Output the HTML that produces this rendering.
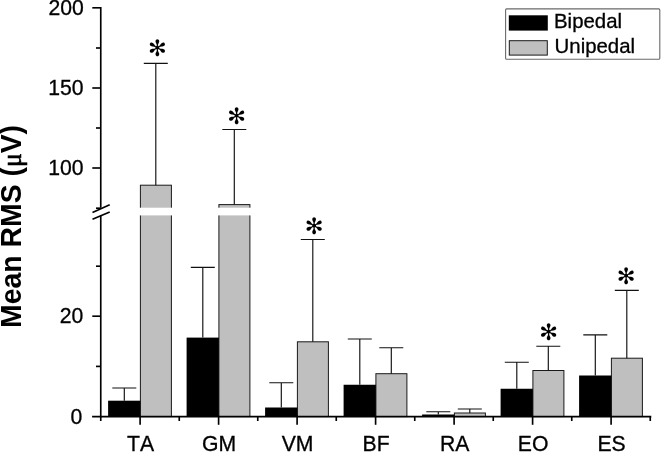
<!DOCTYPE html>
<html><head><meta charset="utf-8"><title>Mean RMS</title>
<style>
html,body{margin:0;padding:0;background:#fff;}
svg{display:block;}
text{font-family:"Liberation Sans",Arial,sans-serif;fill:#000;font-kerning:none;}
.ast{font-family:"DejaVu Sans",sans-serif;font-size:22.5px;}
.lab{font-size:21.2px;stroke:#000;stroke-width:0.3px;}
</style></head><body>
<svg width="661" height="452" viewBox="0 0 661 452">
<rect width="661" height="452" fill="#fff"/>
<rect x="140.40" y="185.20" width="31" height="231.40" fill="#bfbfbf" stroke="#1a1a1a" stroke-width="1"/>
<rect x="108.10" y="400.70" width="32.3" height="15.90" fill="#000"/>
<path d="M124.30 400.70V388.00M112.30 388.00H136.30" stroke="#111" stroke-width="1.15" fill="none"/>
<path d="M155.80 185.20V63.30M143.80 63.30H167.80" stroke="#111" stroke-width="1.15" fill="none"/>
<rect x="218.90" y="204.60" width="31" height="212.00" fill="#bfbfbf" stroke="#1a1a1a" stroke-width="1"/>
<rect x="186.60" y="337.60" width="32.3" height="79.00" fill="#000"/>
<path d="M202.80 337.60V267.30M190.80 267.30H214.80" stroke="#111" stroke-width="1.15" fill="none"/>
<path d="M234.30 204.60V129.50M222.30 129.50H246.30" stroke="#111" stroke-width="1.15" fill="none"/>
<rect x="297.40" y="341.80" width="31" height="74.80" fill="#bfbfbf" stroke="#1a1a1a" stroke-width="1"/>
<rect x="265.10" y="407.50" width="32.3" height="9.10" fill="#000"/>
<path d="M281.30 407.50V382.75M269.30 382.75H293.30" stroke="#111" stroke-width="1.15" fill="none"/>
<path d="M312.80 341.80V239.50M300.80 239.50H324.80" stroke="#111" stroke-width="1.15" fill="none"/>
<rect x="375.90" y="373.70" width="31" height="42.90" fill="#bfbfbf" stroke="#1a1a1a" stroke-width="1"/>
<rect x="343.60" y="384.75" width="32.3" height="31.85" fill="#000"/>
<path d="M359.80 384.75V339.00M347.80 339.00H371.80" stroke="#111" stroke-width="1.15" fill="none"/>
<path d="M391.30 373.70V347.70M379.30 347.70H403.30" stroke="#111" stroke-width="1.15" fill="none"/>
<rect x="454.40" y="413.00" width="31" height="3.60" fill="#bfbfbf" stroke="#1a1a1a" stroke-width="1"/>
<rect x="422.10" y="414.50" width="32.3" height="2.10" fill="#000"/>
<path d="M438.30 414.50V411.75M426.30 411.75H450.30" stroke="#111" stroke-width="1.15" fill="none"/>
<path d="M469.80 413.00V409.00M457.80 409.00H481.80" stroke="#111" stroke-width="1.15" fill="none"/>
<rect x="532.90" y="370.50" width="31" height="46.10" fill="#bfbfbf" stroke="#1a1a1a" stroke-width="1"/>
<rect x="500.60" y="388.75" width="32.3" height="27.85" fill="#000"/>
<path d="M516.80 388.75V362.25M504.80 362.25H528.80" stroke="#111" stroke-width="1.15" fill="none"/>
<path d="M548.30 370.50V346.25M536.30 346.25H560.30" stroke="#111" stroke-width="1.15" fill="none"/>
<rect x="611.40" y="358.20" width="31" height="58.40" fill="#bfbfbf" stroke="#1a1a1a" stroke-width="1"/>
<rect x="579.10" y="375.50" width="32.3" height="41.10" fill="#000"/>
<path d="M595.30 375.50V334.90M583.30 334.90H607.30" stroke="#111" stroke-width="1.15" fill="none"/>
<path d="M626.80 358.20V290.40M614.80 290.40H638.80" stroke="#111" stroke-width="1.15" fill="none"/>
<rect x="136" y="207.7" width="120" height="7.7" fill="#fff"/>
<path d="M100.75 7V207.7M100.75 215.4V417.35" stroke="#000" stroke-width="1.65" fill="none"/>
<path d="M92.1 416.6H651.3" stroke="#000" stroke-width="1.65" fill="none"/>
<path d="M92.3 7.8H100.75" stroke="#000" stroke-width="1.65"/>
<path d="M92.3 88H100.75" stroke="#000" stroke-width="1.65"/>
<path d="M92.3 168H100.75" stroke="#000" stroke-width="1.65"/>
<path d="M92.3 316.2H100.75" stroke="#000" stroke-width="1.65"/>
<path d="M96 48H100.75" stroke="#000" stroke-width="1.65"/>
<path d="M96 128H100.75" stroke="#000" stroke-width="1.65"/>
<path d="M96 208.2H100.75" stroke="#000" stroke-width="1.65"/>
<path d="M96 266.2H100.75" stroke="#000" stroke-width="1.65"/>
<path d="M96 366.4H100.75" stroke="#000" stroke-width="1.65"/>
<path d="M92.5 212.5L109.7 204.7M92.5 219.2L109.7 212" stroke="#000" stroke-width="1.65" fill="none"/>
<path d="M140.10 416.6V424.8" stroke="#000" stroke-width="1.65"/>
<path d="M218.60 416.6V424.8" stroke="#000" stroke-width="1.65"/>
<path d="M297.10 416.6V424.8" stroke="#000" stroke-width="1.65"/>
<path d="M375.60 416.6V424.8" stroke="#000" stroke-width="1.65"/>
<path d="M454.10 416.6V424.8" stroke="#000" stroke-width="1.65"/>
<path d="M532.60 416.6V424.8" stroke="#000" stroke-width="1.65"/>
<path d="M611.10 416.6V424.8" stroke="#000" stroke-width="1.65"/>
<path d="M100.75 416.6V421" stroke="#000" stroke-width="1.65"/>
<path d="M179.25 416.6V421" stroke="#000" stroke-width="1.65"/>
<path d="M257.75 416.6V421" stroke="#000" stroke-width="1.65"/>
<path d="M336.25 416.6V421" stroke="#000" stroke-width="1.65"/>
<path d="M414.75 416.6V421" stroke="#000" stroke-width="1.65"/>
<path d="M493.25 416.6V421" stroke="#000" stroke-width="1.65"/>
<path d="M571.75 416.6V421" stroke="#000" stroke-width="1.65"/>
<path d="M650.25 416.6V421" stroke="#000" stroke-width="1.65"/>
<text class="lab" x="140.60" y="450.8" text-anchor="middle">TA</text>
<text class="lab" x="219.10" y="450.8" text-anchor="middle">GM</text>
<text class="lab" x="297.60" y="450.8" text-anchor="middle">VM</text>
<text class="lab" x="376.10" y="450.8" text-anchor="middle">BF</text>
<text class="lab" x="454.60" y="450.8" text-anchor="middle">RA</text>
<text class="lab" x="533.10" y="450.8" text-anchor="middle">EO</text>
<text class="lab" x="611.60" y="450.8" text-anchor="middle">ES</text>
<text class="lab" x="83.75" y="15.3" text-anchor="end">200</text>
<text class="lab" x="83.55" y="94.6" text-anchor="end">150</text>
<text class="lab" x="83.55" y="175.4" text-anchor="end">100</text>
<text class="lab" x="83.3" y="323.05" text-anchor="end">20</text>
<text class="lab" x="82.2" y="423.55" text-anchor="end">0</text>
<text transform="translate(21.2 327.9) rotate(-90) scale(1 1.05)" font-size="28.4" font-weight="bold">Mean RMS (<tspan font-family="'Liberation Serif',serif" font-weight="normal" font-size="25.5" stroke="#000" stroke-width="0.55">μ</tspan>V)</text>
<text class="ast" x="148.01" y="56.21">✻</text>
<text class="ast" x="227.21" y="123.61">✻</text>
<text class="ast" x="304.71" y="233.71">✻</text>
<text class="ast" x="539.21" y="339.61">✻</text>
<text class="ast" x="616.71" y="284.41">✻</text>
<rect x="505.6" y="8.9" width="154.2" height="50.3" rx="1" fill="#fff" stroke="#6a6a6a" stroke-width="1.1"/>
<rect x="508.8" y="15.3" width="39" height="15.3" fill="#000"/>
<rect x="509.3" y="40.7" width="38" height="14.4" fill="#bfbfbf" stroke="#1a1a1a" stroke-width="1"/>
<text x="554" y="28" font-size="20.4" stroke="#000" stroke-width="0.3">Bipedal</text>
<text x="554.6" y="53.2" font-size="20.4" stroke="#000" stroke-width="0.3">Unipedal</text>
</svg></body></html>
